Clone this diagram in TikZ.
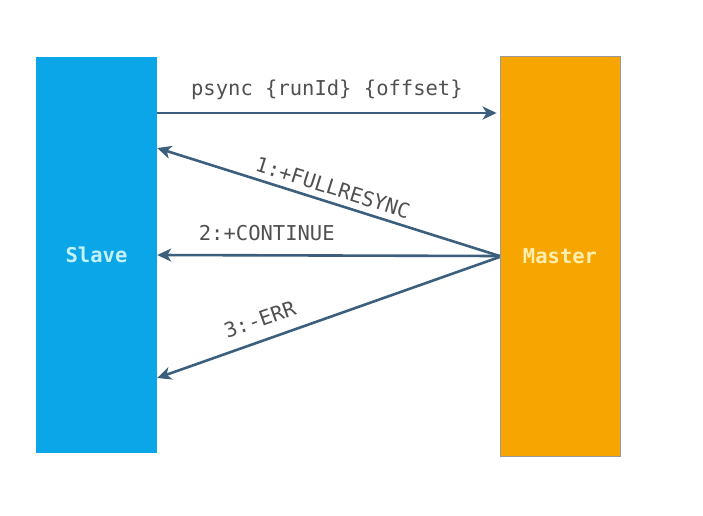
\documentclass[tikz,border=0pt]{standalone}
\usepackage{fontspec}
\setmonofont{DejaVu Sans Mono}
\usetikzlibrary{arrows.meta,positioning}

\definecolor{slaveblue}{HTML}{0AA6E8}
\definecolor{masterorange}{HTML}{F7A500}
\definecolor{arrowslate}{HTML}{3C5F7E}
\definecolor{labelgray}{HTML}{505050}
\definecolor{slavetext}{HTML}{C4F2F4}
\definecolor{mastertext}{HTML}{FFEFAE}

\begin{document}
\begin{tikzpicture}[x=1pt, y=-1pt,
    box/.style={rectangle, inner sep=0pt, font=\ttfamily\bfseries\fontsize{20.5}{24}\selectfont},
    msg/.style={draw=arrowslate, line width=2.6pt, -{Stealth[length=14pt, width=13pt, inset=4pt]}},
    lbl/.style={text=labelgray, font=\ttfamily\fontsize{20.5}{24}\selectfont, inner sep=3pt}]

    \useasboundingbox (0,0) rectangle (703,515);

    % -- I due blocchi --
    \node[box, fill=slaveblue, text=slavetext, minimum width=121pt, minimum height=396pt]
        (slave) at (96.5,255) {Slave};
    \node[box, fill=masterorange, draw=gray!80, line width=0.8pt, text=mastertext,
        minimum width=120pt, minimum height=400pt]
        (master) at (560,256) {Master};

    % -- Richiesta dallo slave --
    \draw[msg] ([yshift=142pt]slave.east) -- ([yshift=142pt, xshift=-3pt]slave.east -| master.west)
        node[lbl, midway, above=9pt] {psync \{runId\} \{offset\}};

    % -- Risposte del master --
    \draw[msg] (master.west) -- ([yshift=107pt]slave.east)
        node[lbl, midway, above=3pt, sloped] {1:+FULLRESYNC};
    \draw[msg] (master.west) -- (slave.east)
        node[lbl, pos=0.68, above=10pt] {2:+CONTINUE};
    \draw[msg] ([yshift=-1pt]master.west) -- ([yshift=-123pt]slave.east)
        node[lbl, pos=0.68, above=9pt, sloped] {3:-ERR};

\end{tikzpicture}
\end{document}
